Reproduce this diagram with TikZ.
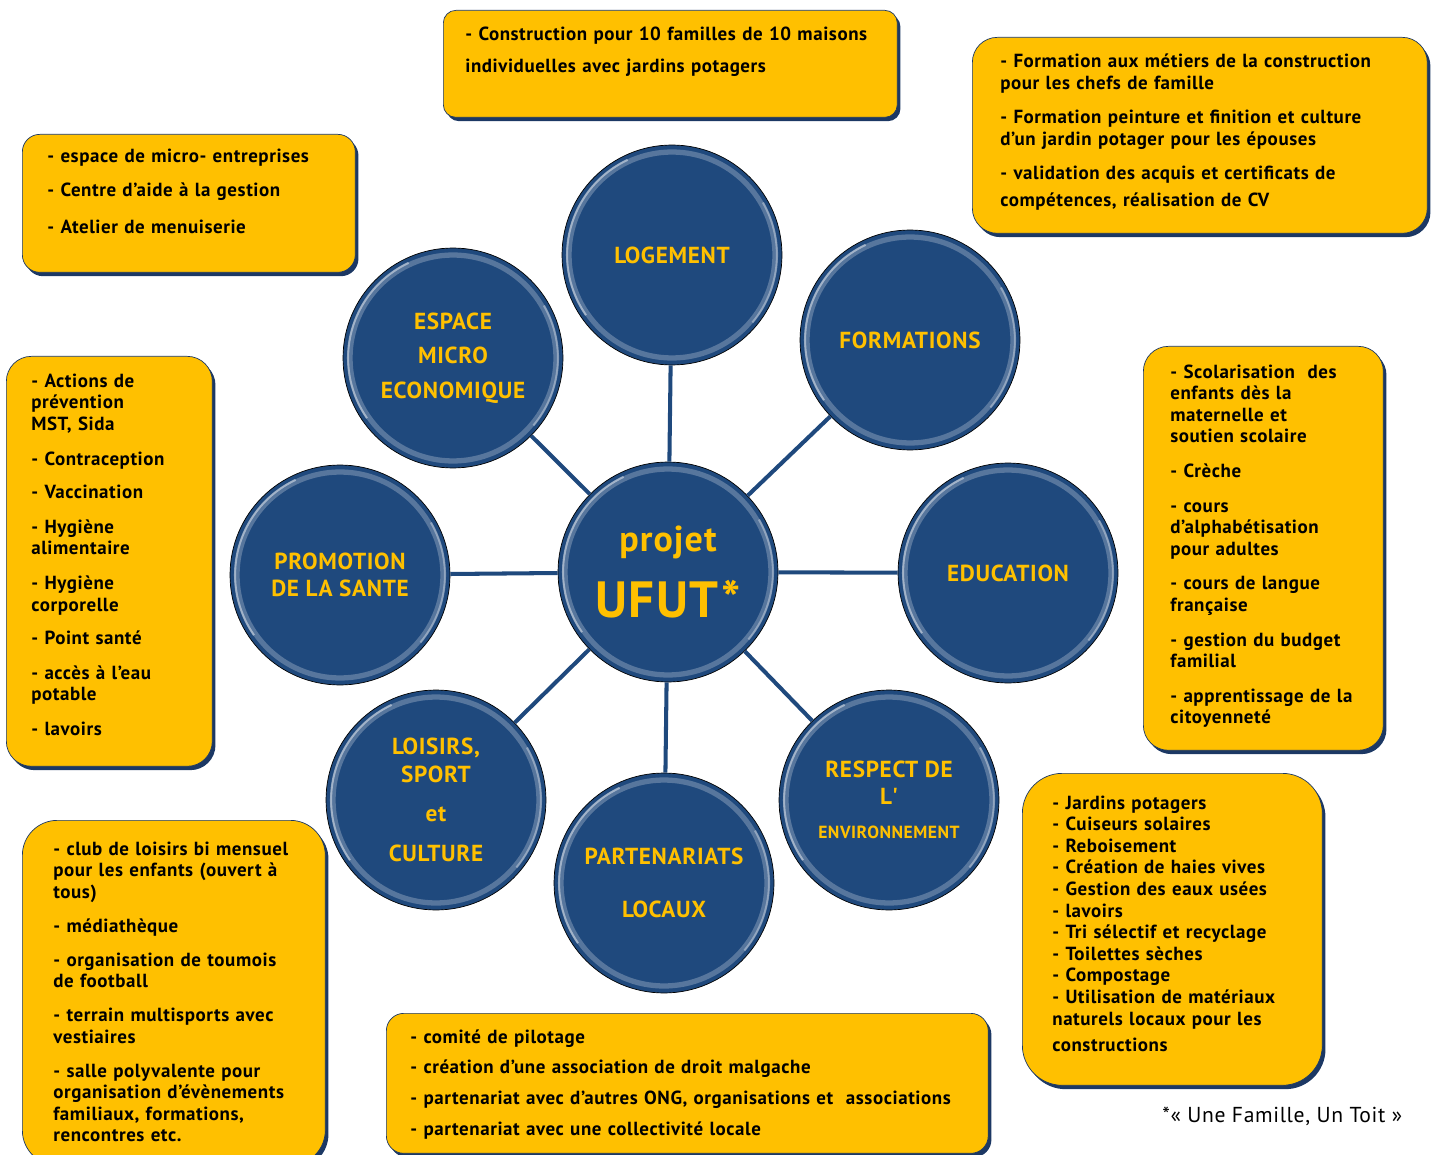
\documentclass[tikz,border=0pt]{standalone}
\usepackage{fontspec}
\setmainfont{PT Sans}[LetterSpace=3]
\newfontfamily\rawfont{PT Sans}[LetterSpace=3]
\usetikzlibrary{shadows}
\definecolor{navy}{RGB}{31,73,125}
\definecolor{boxnavy}{RGB}{28,56,100}
\definecolor{gold}{RGB}{255,192,0}

\begin{document}
\begin{tikzpicture}[x=0.02cm,y=-0.02cm,
  bubble/.style={circle,fill=navy,draw=black,thin,minimum size=4.4cm,inner sep=0pt,
    text=gold,align=center,font=\bfseries\fontsize{13.2}{15.5}\selectfont,
    path picture={
      \draw[white,opacity=.25,line width=3pt] (path picture bounding box.center) circle (2.06cm);
      \draw[white,opacity=.45,line width=1.2pt] (path picture bounding box.center) ++(115:2.1cm) arc(115:215:2.1cm);
      \draw[white,opacity=.35,line width=1.2pt] (path picture bounding box.center) ++(-40:2.1cm) arc(-40:30:2.1cm);}},
  infobox/.style={rectangle,fill=gold,draw=boxnavy,thin,anchor=north west,
    drop shadow={shadow xshift=1.8pt,shadow yshift=-2.2pt,fill=boxnavy,opacity=1}},
  boxtext/.style={anchor=base west,inner sep=0pt,align=left,text width=#1,
    font=\bfseries\fontsize{10.8}{12.3}\selectfont},
  link/.style={draw=navy,line width=2.3pt}]

\useasboundingbox (0,0) rectangle (1433,1155);

% cercles
\node[bubble] (ufut) at (668,572) {{\fontsize{20.5}{23}\selectfont projet}\\[11pt]{\fontsize{29}{34}\selectfont UFUT*}};
\node[bubble] (loge) at (672,255) {LOGEMENT};
\node[bubble] (form) at (910,340) {FORMATIONS};
\node[bubble] (educ) at (1008,573) {EDUCATION};
\node[bubble] (envi) at (889,800) {RESPECT DE\\ L{\rawfont'}\\[4pt]{\fontsize{10}{11}\selectfont ENVIRONNEMENT}};
\node[bubble] (part) at (664,883) {PARTENARIATS\\[15pt]LOCAUX};
\node[bubble] (lois) at (436,800) {LOISIRS,\\ SPORT\\[7pt]et\\[7pt]CULTURE};
\node[bubble] (sante) at (340,575) {PROMOTION\\ DE LA SANTE};
\node[bubble] (espace) at (453,358) {ESPACE\\[4pt]MICRO\\[4pt]ECONOMIQUE};

\foreach \n in {loge,form,educ,envi,part,lois,sante,espace}
  \draw[link] (ufut) -- (\n);

% cadres
\node[infobox,minimum width=9.08cm,minimum height=2.14cm,rounded corners=0.25cm] (logbox) at (443,10) {};
\node[boxtext=8.6cm] (logtxt) at (465,41) {- Construction pour 10 familles de 10 maisons\\[5.8pt]
individuelles avec jardins potagers};

\node[infobox,minimum width=9.1cm,minimum height=3.92cm,rounded corners=0.5cm] (formbox) at (972,37) {};
\node[boxtext=8.7cm] (formtxt) at (1000,68) {- Formation aux métiers de la construction\\
pour les chefs de famille\\[7pt]
- Formation peinture et finition et culture\\
d’un jardin potager pour les épouses\\[7.5pt]
- validation des acquis et certificats de\\[3pt]
compétences, réalisation de CV};

\node[infobox,minimum width=6.66cm,minimum height=2.76cm,rounded corners=0.35cm] (espbox) at (22,134) {};
\node[boxtext=6.1cm] (esptxt) at (47,163) {- espace de micro- entreprises\\[7pt]
- Centre d’aide à la gestion\\[8.5pt]
- Atelier de menuiserie};

\node[infobox,minimum width=4.12cm,minimum height=8.2cm,rounded corners=0.5cm] (santebox) at (6,356) {};
\node[boxtext=3.8cm] (santetxt) at (31,387) {- Actions de\\ prévention\\ MST, Sida\\[7.6pt]
- Contraception\\[6.4pt]
- Vaccination\\[7.6pt]
- Hygiène\\ alimentaire\\[7.6pt]
- Hygiène\\ corporelle\\[6.4pt]
- Point santé\\[7.6pt]
- accès à l’eau\\ potable\\[7.6pt]
- lavoirs};

\node[infobox,minimum width=4.8cm,minimum height=8.08cm,rounded corners=0.5cm] (educbox) at (1143,346) {};
\node[boxtext=4.3cm] (eductxt) at (1170,378) {- Scolarisation~ des\\ enfants dès la\\ maternelle et\\ soutien scolaire\\[7.4pt]
- Crèche\\[7.4pt]
- cours\\ d’alphabétisation\\ pour adultes\\[7.4pt]
- cours de langue\\ française\\[7.4pt]
- gestion du budget\\ familial\\[7.4pt]
- apprentissage de la\\ citoyenneté};

\node[infobox,minimum width=6cm,minimum height=6.24cm,rounded corners=0.8cm] (envbox) at (1022,773) {};
\node[boxtext=5.6cm] (envtxt) at (1052,809) {- Jardins potagers\\ - Cuiseurs solaires\\ - Reboisement\\
- Création de haies vives\\ - Gestion des eaux usées\\ - lavoirs\\
- Tri sélectif et recyclage\\ - Toilettes sèches\\ - Compostage\\
- Utilisation de matériaux\\ naturels locaux pour les\\[2.5pt] constructions};

\node[infobox,minimum width=6.06cm,minimum height=6.9cm,rounded corners=0.7cm] (loisbox) at (22,820) {};
\node[boxtext=5.6cm] (loistxt) at (53,855) {- club de loisirs bi mensuel\\ pour les enfants (ouvert à\\ tous)\\[7pt]
- médiathèque\\[7pt]
- organisation de toumois\\ de football\\[7pt]
- terrain multisports avec\\ vestiaires\\[7pt]
- salle polyvalente pour\\ organisation d’évènements\\ familiaux, formations,\\ rencontres etc.};

\node[infobox,minimum width=12.04cm,minimum height=2.8cm,rounded corners=0.35cm] (partbox) at (386,1013) {};
\node[boxtext=11.5cm] (parttxt) at (410,1043) {- comité de pilotage\\[5.3pt]
- création d’une association de droit malgache\\[5.3pt]
- partenariat avec d’autres ONG, organisations et~ associations\\[5.3pt]
- partenariat avec une collectivité locale};

\node[anchor=base west,inner sep=0pt,font=\fontsize{12.3}{14}\selectfont] (note) at (1162,1122) {*« Une Famille, Un Toit »};

\end{tikzpicture}
\end{document}
